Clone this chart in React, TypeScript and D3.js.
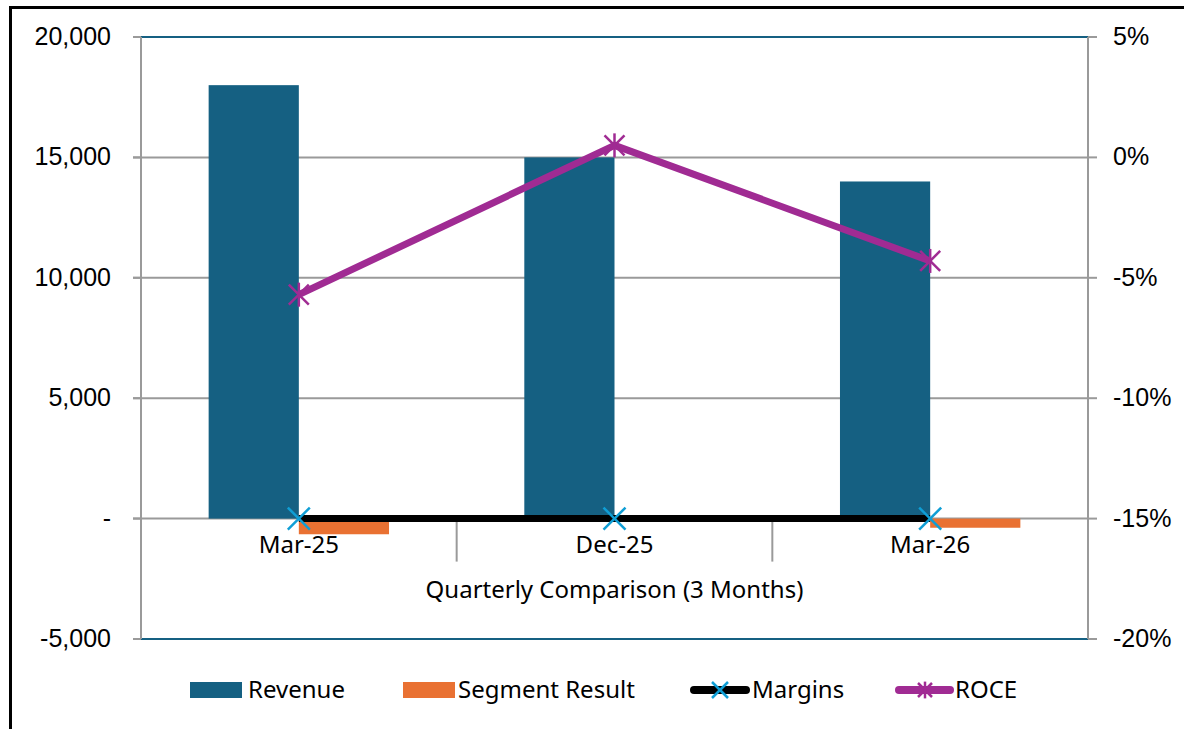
import * as d3 from "d3";

const categories = ["Mar-25", "Dec-25", "Mar-26"];
const revenue = [18000, 15000, 14000];
const segmentResult = [-650, 0, -380];
const margins = [0, 0, 0];
const roce = [-0.057, 0.005, -0.043];

const leftTicks = [-5000, 0, 5000, 10000, 15000, 20000];
const rightTicks = [-0.2, -0.15, -0.1, -0.05, 0, 0.05];

const W = 1184;
const H = 729;
const plot = { left: 141, right: 1088, top: 37, bottom: 639 };

const BLUE = "#156082";
const ORANGE = "#E97132";
const PURPLE = "#A02B93";
const LIGHTBLUE = "#0F9ED5";
const GRID = "#9A9A9A";
const NUM_FONT = "'Liberation Sans', Arial, sans-serif";
const TXT_FONT = "'Noto Sans', 'Open Sans', sans-serif";

// excel style: hyphen minus, dash for zero
const fmtLeft = (v: number) => (v === 0 ? "-" : d3.format(",")(v).replace("\u2212", "-"));
const fmtRight = (v: number) => d3.format(".0%")(v).replace("\u2212", "-");

const XMark = ({ x, y, r, color, star }: { x: number; y: number; r: number; color: string; star?: boolean }) => (
  <g stroke={color} strokeWidth={2.5} fill="none">
    <line x1={x - r} y1={y - r} x2={x + r} y2={y + r} />
    <line x1={x - r} y1={y + r} x2={x + r} y2={y - r} />
    {star && <line x1={x} y1={y - r * 1.2} x2={x} y2={y + r * 1.2} />}
  </g>
);

export default function App() {
  const x = d3.scaleBand<string>().domain(categories).range([plot.left, plot.right]).padding(0);
  const yL = d3.scaleLinear().domain([-5000, 20000]).range([plot.bottom, plot.top]);
  const yR = d3.scaleLinear().domain([-0.2, 0.05]).range([plot.bottom, plot.top]);
  const bw = x.bandwidth() / 3.5;
  const cx = (c: string) => (x(c) as number) + x.bandwidth() / 2;
  const y0 = yL(0);

  const marginLine = d3
    .line<number>()
    .x((_, i) => cx(categories[i]))
    .y((d) => yL(d));
  const roceLine = d3
    .line<number>()
    .x((_, i) => cx(categories[i]))
    .y((d) => yR(d));

  const legendY = 690;

  return (
    <svg width={W} height={H} style={{ position: "absolute", left: 0, top: 0, background: "#fff" }}>
      <rect x={10.5} y={7.5} width={W + 10} height={H + 10} fill="#fff" stroke="#000" strokeWidth={3} />

      {/* gridlines */}
      {leftTicks.map((t) => (
        <line
          key={t}
          x1={plot.left - 8}
          x2={plot.right}
          y1={yL(t)}
          y2={yL(t)}
          stroke={t === 20000 || t === -5000 ? BLUE : GRID}
          strokeWidth={2}
        />
      ))}
      {leftTicks.map((t) => (
        <line key={"tl" + t} x1={plot.left - 8} x2={plot.left} y1={yL(t)} y2={yL(t)} stroke={GRID} strokeWidth={2} />
      ))}
      {rightTicks.map((t) => (
        <line key={"tr" + t} x1={plot.right} x2={plot.right + 9} y1={yR(t)} y2={yR(t)} stroke={GRID} strokeWidth={2} />
      ))}

      {/* axes */}
      <line x1={plot.left} x2={plot.left} y1={plot.top} y2={plot.bottom} stroke={GRID} strokeWidth={2} />
      <line x1={plot.right} x2={plot.right} y1={plot.top} y2={plot.bottom} stroke={GRID} strokeWidth={2} />
      {categories.slice(1).map((c) => (
        <line key={c} x1={x(c)} x2={x(c)} y1={y0} y2={y0 + 43} stroke={GRID} strokeWidth={2} />
      ))}

      {/* bars */}
      {categories.map((c, i) => (
        <g key={c}>
          <rect x={cx(c) - bw} y={yL(revenue[i])} width={bw} height={y0 - yL(revenue[i])} fill={BLUE} />
          <rect
            x={cx(c)}
            y={yL(Math.max(0, segmentResult[i]))}
            width={bw}
            height={Math.abs(yL(segmentResult[i]) - y0)}
            fill={ORANGE}
          />
        </g>
      ))}

      {/* lines */}
      <path d={marginLine(margins) || ""} fill="none" stroke="#000" strokeWidth={7} />
      {margins.map((m, i) => (
        <XMark key={i} x={cx(categories[i])} y={yL(m)} r={11} color={LIGHTBLUE} />
      ))}
      <path d={roceLine(roce) || ""} fill="none" stroke={PURPLE} strokeWidth={7} strokeLinejoin="round" />
      {roce.map((r, i) => (
        <XMark key={i} x={cx(categories[i])} y={yR(r)} r={10} color={PURPLE} star />
      ))}

      {/* tick labels */}
      {leftTicks.map((t) => (
        <text key={t} x={111} y={yL(t) + 8} textAnchor="end" fontFamily={NUM_FONT} fontSize={25} fill="#000">
          {fmtLeft(t)}
        </text>
      ))}
      {rightTicks.map((t) => (
        <text key={t} x={1113} y={yR(t) + 8} fontFamily={NUM_FONT} fontSize={25} fill="#000">
          {fmtRight(t)}
        </text>
      ))}
      {categories.map((c) => (
        <text key={c} x={cx(c)} y={y0 + 34} textAnchor="middle" fontFamily={TXT_FONT} fontSize={24} fill="#000">
          {c}
        </text>
      ))}
      <text
        x={(plot.left + plot.right) / 2}
        y={598}
        textAnchor="middle"
        fontFamily={TXT_FONT}
        fontSize={24}
        fill="#000"
      >
        Quarterly Comparison (3 Months)
      </text>

      {/* legend */}
      <rect x={190} y={legendY - 8} width={52} height={16} fill={BLUE} />
      <text x={248} y={legendY + 8} fontFamily={TXT_FONT} fontSize={24} fill="#000">Revenue</text>
      <rect x={403} y={legendY - 8} width={52} height={16} fill={ORANGE} />
      <text x={458} y={legendY + 8} fontFamily={TXT_FONT} fontSize={24} fill="#000">Segment Result</text>
      <line x1={694} x2={746} y1={legendY} y2={legendY} stroke="#000" strokeWidth={8} strokeLinecap="round" />
      <XMark x={720} y={legendY} r={8} color={LIGHTBLUE} />
      <text x={752} y={legendY + 8} fontFamily={TXT_FONT} fontSize={24} fill="#000">Margins</text>
      <line x1={899} x2={950} y1={legendY} y2={legendY} stroke={PURPLE} strokeWidth={8} strokeLinecap="round" />
      <XMark x={925} y={legendY} r={7} color={PURPLE} star />
      <text x={955} y={legendY + 8} fontFamily={TXT_FONT} fontSize={24} fill="#000">ROCE</text>
    </svg>
  );
}
